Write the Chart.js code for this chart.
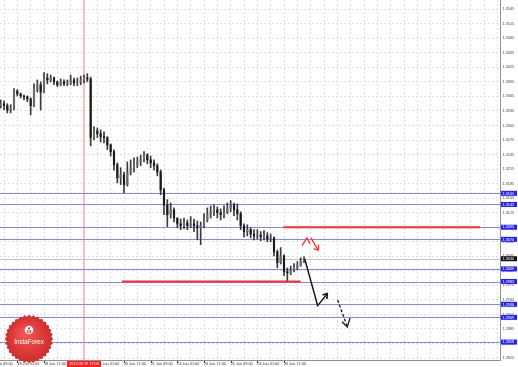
<!DOCTYPE html>
<html lang="en">
<head>
<meta charset="UTF-8">
<title>EURUSD H1</title>
<script src="https://cdn.jsdelivr.net/npm/chart.js"></script>
<style>
    html, body { margin: 0; padding: 0; background: #fff; }
    #caixa { width: 518px; height: 367px; }
</style>
</head>
<body>
<div id="caixa"><canvas id="grafico" width="518" height="367"></canvas></div>
<script>

    // horas contadas a partir de 17 Jun 17:00 (uma vela a cada 2 horas)
    var horas = [
        -2, 0, 2, 4, 6, 8, 10, 12, 14, 16,
        18, 20, 22, 24, 26, 28, 30, 32, 34, 36,
        38, 40, 42, 44, 46, 48, 50, 52, 54, 56,
        58, 60, 62, 64, 66, 68, 70, 72, 74, 76,
        78, 80, 82, 84, 86, 88, 90, 92, 94, 96,
        98, 100, 102, 104, 106, 108, 110, 112, 114, 116,
        118, 120, 122, 124, 126, 128, 130, 132, 134, 136,
        138, 140, 142, 144, 146, 148, 150, 152, 154, 156,
        158, 160, 162, 164, 166, 168, 170, 172, 174, 176,
        178, 180
    ];

    var primeiraAbertura = 1.3346;

    var fechamento = [
        1.3350, 1.3346, 1.3337, 1.3339, 1.3376, 1.3370, 1.3366, 1.3364, 1.3360, 1.3346,
        1.3379, 1.3389, 1.3374, 1.3403, 1.3399, 1.3403, 1.3395, 1.3389, 1.3395, 1.3391,
        1.3393, 1.3399, 1.3393, 1.3395, 1.3399, 1.3403, 1.3401, 1.3280, 1.3294, 1.3288,
        1.3282, 1.3280, 1.3265, 1.3251, 1.3224, 1.3197, 1.3203, 1.3183, 1.3209, 1.3218,
        1.3224, 1.3230, 1.3234, 1.3244, 1.3234, 1.3228, 1.3222, 1.3209, 1.3172, 1.3141,
        1.3121, 1.3131, 1.3114, 1.3102, 1.3098, 1.3104, 1.3098, 1.3102, 1.3098, 1.3094,
        1.3098, 1.3110, 1.3121, 1.3127, 1.3131, 1.3125, 1.3121, 1.3127, 1.3135, 1.3141,
        1.3131, 1.3123, 1.3098, 1.3086, 1.3090, 1.3081, 1.3077, 1.3079, 1.3075, 1.3077,
        1.3071, 1.3073, 1.3044, 1.3022, 1.3036, 1.3003, 1.3001, 1.3007, 1.3011, 1.3015,
        1.3024, 1.3030
    ];

    var maximas = [
        1.3358, 1.3356, 1.3350, 1.3348, 1.3381, 1.3379, 1.3372, 1.3368, 1.3366, 1.3362,
        1.3391, 1.3399, 1.3395, 1.3414, 1.3412, 1.3409, 1.3405, 1.3397, 1.3401, 1.3399,
        1.3399, 1.3409, 1.3403, 1.3403, 1.3407, 1.3409, 1.3412, 1.3405, 1.3302, 1.3300,
        1.3296, 1.3292, 1.3282, 1.3267, 1.3255, 1.3228, 1.3218, 1.3209, 1.3230, 1.3234,
        1.3238, 1.3240, 1.3244, 1.3251, 1.3247, 1.3242, 1.3234, 1.3226, 1.3213, 1.3176,
        1.3152, 1.3145, 1.3135, 1.3114, 1.3112, 1.3114, 1.3110, 1.3117, 1.3112, 1.3108,
        1.3106, 1.3123, 1.3135, 1.3139, 1.3141, 1.3137, 1.3133, 1.3139, 1.3145, 1.3150,
        1.3145, 1.3143, 1.3127, 1.3102, 1.3100, 1.3094, 1.3090, 1.3090, 1.3086, 1.3088,
        1.3084, 1.3081, 1.3075, 1.3048, 1.3053, 1.3038, 1.3011, 1.3015, 1.3020, 1.3024,
        1.3032, 1.3034
    ];

    var minimas = [
        1.3341, 1.3337, 1.3331, 1.3331, 1.3337, 1.3366, 1.3362, 1.3358, 1.3354, 1.3327,
        1.3344, 1.3374, 1.3337, 1.3372, 1.3391, 1.3395, 1.3389, 1.3385, 1.3387, 1.3387,
        1.3387, 1.3389, 1.3387, 1.3387, 1.3389, 1.3393, 1.3395, 1.3263, 1.3275, 1.3280,
        1.3271, 1.3269, 1.3255, 1.3242, 1.3213, 1.3187, 1.3183, 1.3166, 1.3180, 1.3203,
        1.3209, 1.3218, 1.3222, 1.3230, 1.3226, 1.3218, 1.3213, 1.3201, 1.3162, 1.3121,
        1.3096, 1.3114, 1.3106, 1.3094, 1.3090, 1.3092, 1.3090, 1.3094, 1.3086, 1.3069,
        1.3059, 1.3094, 1.3106, 1.3114, 1.3119, 1.3114, 1.3110, 1.3114, 1.3123, 1.3127,
        1.3119, 1.3110, 1.3090, 1.3075, 1.3077, 1.3073, 1.3069, 1.3071, 1.3067, 1.3069,
        1.3065, 1.3065, 1.3036, 1.3011, 1.3019, 1.2995, 1.2984, 1.2997, 1.3003, 1.3007,
        1.3015, 1.3022
    ];

    // eixo de preços
    var precosEixo = [
        1.3545, 1.3515, 1.3485, 1.3455, 1.3425, 1.3395, 1.3365, 1.3335, 1.3305,
        1.3275, 1.3245, 1.3215, 1.3185, 1.3155, 1.3125, 1.3095, 1.3065, 1.3035,
        1.3005, 1.2975, 1.2945, 1.2915, 1.2885, 1.2855, 1.2825
    ];

    // rótulos de tempo
    var horasRotulos = [-8, 8, 24, 40, 56, 72, 88, 104, 120, 136, 152, 168];
    var rotulosTempo = [
        '17 Jun 09:00', '18 Jun 01:00', '18 Jun 17:00', '19 Jun 09:00', '20 Jun 01:00',
        '20 Jun 17:00', '21 Jun 09:00', '24 Jun 01:00', '24 Jun 17:00', '25 Jun 09:00',
        '26 Jun 01:00', '26 Jun 17:00'
    ];
    var horaMarcada = 48;
    var rotuloMarcado = '2013.06.19 17:00';

    // níveis horizontais (azuis) e preço atual
    var niveis = [1.3165, 1.3142, 1.3095, 1.3070, 1.3009, 1.2983, 1.2936, 1.2909, 1.2858];
    var precoAtual = 1.3030;

    // linhas vermelhas de suporte / resistência
    var suporteVermelho = [{ x: 70.8, y: 1.2983 }, { x: 178, y: 1.2983 }];
    var resistenciaVermelha = [{ x: 167.6, y: 1.3095 }, { x: 285.6, y: 1.3095 }];

    // previsão desenhada
    var previsaoQueda = [{ x: 180.4, y: 1.3030 }, { x: 188.2, y: 1.2933 }, { x: 194.0, y: 1.2958 }];
    var pontaSubida = [{ x: 191.1, y: 1.2955 }, { x: 194.0, y: 1.2958 }, { x: 193.8, y: 1.2947 }];
    var previsaoTracejada = [{ x: 200.2, y: 1.2945 }, { x: 206.0, y: 1.2889 }];
    var pontaTracejada = [{ x: 202.8, y: 1.2900 }, { x: 206.0, y: 1.2889 }, { x: 207.6, y: 1.2908 }];
    var setaVermelha1 = [{ x: 178.8, y: 1.3057 }, { x: 181.8, y: 1.3073 }, { x: 183.6, y: 1.3061 }];
    var setaVermelha2 = [{ x: 184.2, y: 1.3073 }, { x: 188.4, y: 1.3048 }];
    var pontaVermelha = [{ x: 185.7, y: 1.3051 }, { x: 188.4, y: 1.3048 }, { x: 188.7, y: 1.3059 }];

    var aberturas = [primeiraAbertura].concat(fechamento.slice(0, -1));

    var pavios = horas.map(function (h, i) { return { x: h, y: [minimas[i], maximas[i]] } });
    var corpos = horas.map(function (h, i) { return { x: h, y: [aberturas[i], fechamento[i]] } });

    function linha(dados, cor, largura, tracejado) {
        return {
            type: 'line',
            data: dados,
            borderColor: cor,
            borderWidth: largura,
            borderDash: tracejado || [],
            pointRadius: 0,
            fill: false,
            tension: 0,
            order: 0
        }
    }

    var fonte = '"Liberation Sans", Arial, sans-serif';
    Chart.defaults.font.family = fonte;

    function logo(c) {
        var cx = 29, cy = 339, dentes = 32;
        c.save();
        c.beginPath();
        for (var i = 0; i < dentes * 2; i++) {
            var r = i % 2 == 0 ? 24.2 : 22.4;
            var ang = Math.PI * i / dentes;
            var px = cx + r * Math.cos(ang), py = cy + r * Math.sin(ang);
            if (i == 0) c.moveTo(px, py); else c.lineTo(px, py);
        }
        c.closePath();
        var grad = c.createRadialGradient(cx - 4, cy - 6, 2, cx, cy, 24);
        grad.addColorStop(0, '#f25555');
        grad.addColorStop(1, '#cf2a2a');
        c.fillStyle = grad;
        c.fill();
        // figura
        c.fillStyle = '#fff';
        c.beginPath();
        c.arc(cx, cy - 9, 4.3, 0, Math.PI * 2);
        c.fill();
        c.fillStyle = '#d83a3a';
        c.beginPath();
        c.arc(cx, cy - 10.6, 1.1, 0, Math.PI * 2);
        c.fill();
        c.fillRect(cx - 2.2, cy - 9, 1, 3);
        c.fillRect(cx + 1.2, cy - 9, 1, 3);
        c.fillRect(cx - 0.5, cy - 9, 1, 3.6);
        c.fillStyle = '#fff';
        c.font = '6.3px ' + fonte;
        c.textAlign = 'center';
        c.textBaseline = 'middle';
        c.fillText('InstaForex', cx, cy + 3.5);
        c.restore();
    }

    var desenhos = {
        id: 'desenhos',
        beforeDatasetsDraw: function (chart) {
            var c = chart.ctx, a = chart.chartArea, x = chart.scales.x, y = chart.scales.y;
            c.save();
            // linha vertical vermelha
            var xv = Math.round(x.getPixelForValue(horaMarcada));
            c.fillStyle = '#ffbcbc';
            c.fillRect(xv - 1, a.top, 2, a.bottom - a.top);
            // preço atual
            c.strokeStyle = '#c4c4c4';
            c.lineWidth = 1;
            var pa = Math.round(y.getPixelForValue(precoAtual)) + 0.5;
            c.beginPath(); c.moveTo(a.left, pa); c.lineTo(a.right, pa); c.stroke();
            // níveis azuis
            c.strokeStyle = '#8585ff';
            niveis.forEach(function (n) {
                var py = Math.round(y.getPixelForValue(n)) + 0.5;
                c.beginPath(); c.moveTo(a.left, py); c.lineTo(a.right, py); c.stroke();
            });
            c.restore();
        },
        afterDraw: function (chart) {
            var c = chart.ctx, a = chart.chartArea, x = chart.scales.x, y = chart.scales.y;
            c.save();
            // bordas
            c.strokeStyle = '#909090';
            c.lineWidth = 1;
            c.beginPath();
            c.moveTo(a.right + 0.5, 0); c.lineTo(a.right + 0.5, a.bottom + 1);
            c.moveTo(0, a.bottom + 0.5); c.lineTo(a.right + 1, a.bottom + 0.5);
            c.stroke();

            c.font = '3.8px ' + fonte;
            c.textBaseline = 'middle';
            c.textAlign = 'left';
            // rótulos dos níveis
            niveis.forEach(function (n) {
                var py = y.getPixelForValue(n);
                c.fillStyle = '#2222ff';
                c.fillRect(a.right + 1, py - 2.5, 16, 5);
                c.fillStyle = '#fff';
                c.fillText(n.toFixed(4), a.right + 2.5, py + 0.2);
            });
            var pa = y.getPixelForValue(precoAtual);
            c.fillStyle = '#111';
            c.fillRect(a.right + 1, pa - 2.5, 16, 5);
            c.fillStyle = '#fff';
            c.fillText(precoAtual.toFixed(4), a.right + 2.5, pa + 0.2);

            // rótulos de tempo
            c.fillStyle = '#333';
            horasRotulos.forEach(function (h, i) {
                var px = x.getPixelForValue(h);
                c.fillText(rotulosTempo[i], px, a.bottom + 4.4);
                c.fillRect(Math.round(px), a.bottom + 1, 1, 2);
            });
            var xm = x.getPixelForValue(horaMarcada);
            c.fillStyle = '#ff1c1c';
            c.fillRect(xm - 17, a.bottom + 1, 34, 6);
            c.fillStyle = '#fff';
            c.textAlign = 'center';
            c.fillText(rotuloMarcado, xm, a.bottom + 4.4);
            c.restore();

            logo(c);
        }
    };

    function semFolga(scale) {
        scale.paddingTop = 0;
        scale.paddingBottom = 0;
        scale.paddingLeft = 0;
        scale.paddingRight = 0;
    }

    new Chart(document.getElementById('grafico'), {
        type: 'bar',
        data: {
            datasets: [
                {
                    type: 'bar',
                    data: pavios,
                    backgroundColor: '#3a3a3a',
                    barThickness: 1,
                    grouped: false,
                    order: 3
                },
                {
                    type: 'bar',
                    data: corpos,
                    backgroundColor: function (ctx) {
                        var i = ctx.dataIndex;
                        return fechamento[i] >= aberturas[i] ? '#6a6a6a' : '#1a1a1a';
                    },
                    barThickness: 1.5,
                    minBarLength: 1,
                    grouped: false,
                    order: 2
                },
                linha(suporteVermelho, '#ff2b2b', 2),
                linha(resistenciaVermelha, '#ff2b2b', 2),
                linha(previsaoQueda, '#1a1a1a', 1.5),
                linha(pontaSubida, '#1a1a1a', 1.5),
                linha(previsaoTracejada, '#1a1a1a', 1.3, [3, 2]),
                linha(pontaTracejada, '#1a1a1a', 1.3),
                linha(setaVermelha1, '#ff2b2b', 1.3),
                linha(setaVermelha2, '#ff2b2b', 1.3),
                linha(pontaVermelha, '#ff2b2b', 1.3)
            ]
        },
        options: {
            responsive: false,
            animation: false,
            devicePixelRatio: 1,
            layout: { padding: 0 },
            plugins: {
                legend: { display: false },
                tooltip: { enabled: false }
            },
            scales: {
                x: {
                    type: 'linear',
                    min: -2.4,
                    max: 297.6,
                    offset: false,
                    afterBuildTicks: function (scale) {
                        var t = [];
                        for (var h = 0; h <= 296; h += 8) t.push({ value: h });
                        scale.ticks = t;
                    },
                    afterFit: function (scale) { scale.height = 7; semFolga(scale) },
                    ticks: { display: false },
                    grid: { offset: false, color: '#e0e0e0', drawTicks: false },
                    border: { display: false, dash: [2, 2] }
                },
                y: {
                    type: 'linear',
                    position: 'right',
                    min: 1.2821,
                    max: 1.3564,
                    afterBuildTicks: function (scale) {
                        scale.ticks = precosEixo.map(function (v) { return { value: v } });
                    },
                    afterFit: function (scale) { scale.width = 18; semFolga(scale) },
                    ticks: {
                        autoSkip: false,
                        padding: 2.5,
                        color: '#444',
                        font: { size: 3.8 },
                        callback: function (v) { return Number(v).toFixed(4) }
                    },
                    grid: { color: '#e0e0e0', drawTicks: false },
                    border: { display: false, dash: [2, 2] }
                }
            }
        },
        plugins: [desenhos]
    });

</script>
</body>
</html>
